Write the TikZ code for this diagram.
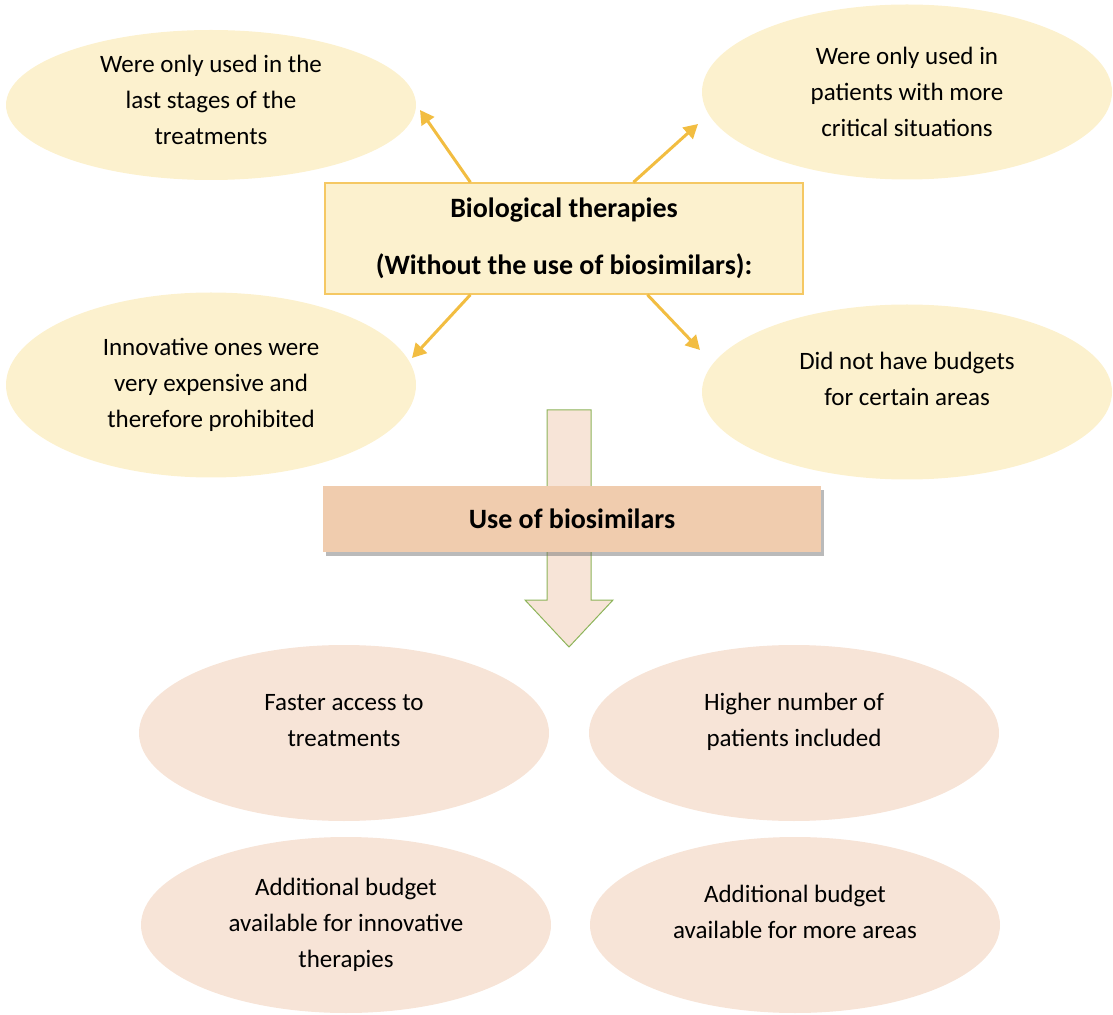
\documentclass[tikz,border=0pt]{standalone}
\usepackage{fontspec}
\setmainfont{Carlito}
\usetikzlibrary{shapes.geometric,arrows.meta,shadows}
\definecolor{goldfill}{HTML}{FCF1CE}
\definecolor{goldline}{HTML}{F5C863}
\definecolor{goldarrow}{HTML}{F2BD41}
\definecolor{peachfill}{HTML}{F7E4D7}
\definecolor{peachbox}{HTML}{F0CCAE}
\definecolor{greenline}{HTML}{8DB45A}
\newcommand{\liftup}{\\[-5pt]\mbox{}}
\begin{document}
\begin{tikzpicture}[x=0.5pt,y=-0.5pt,
  bubble/.style={ellipse,minimum width=205pt,minimum height=#1,inner sep=0pt,align=center,font=\fontsize{12.5}{18}\selectfont},
  bubble/.default=88pt,
  oldbubble/.style={bubble=#1,fill=goldfill},
  newbubble/.style={bubble=88pt,fill=peachfill},
  ray/.style={goldarrow,line width=1.5pt,-{Triangle[length=7pt,width=7.5pt]}}]
\useasboundingbox (0,0) rectangle (1113,1015);
%\draw[step=100,very thin,color=gray] (0,0) grid (1113,1015);
% before biosimilars
\node[oldbubble=75pt] (used-late) at (211,105) {Were only used in the\\last stages of the\\treatments\\[-13pt]\mbox{}};
\node[oldbubble=87.5pt] (used-critical) at (907,92) {Were only used in\\patients with more\\critical situations};
\node[oldbubble=92.5pt] (too-costly) at (211,385) {Innovative ones were\\very expensive and\\therefore prohibited};
\node[oldbubble=87.5pt] (no-budget) at (907,392) {Did not have budgets\\for certain areas\liftup};
\node[draw=goldline,line width=0.75pt,fill=goldfill,minimum width=239pt,minimum height=55.5pt,align=center,
  font=\bfseries\fontsize{14}{28.5}\selectfont] (bio) at (564,238.5) {Biological therapies\\(Without the use of biosimilars):};
\coordinate (late-tip) at (420,110);
\coordinate (critical-tip) at (698,124);
\coordinate (costly-tip) at (412,358);
\coordinate (budget-tip) at (700,350);
\draw[ray] (bio.149) -- (late-tip);
\draw[ray] (bio.39) -- (critical-tip);
\draw[ray] (bio.211) -- (costly-tip);
\draw[ray] (bio.-34) -- (budget-tip);
% big arrow down
\draw[greenline,line width=0.5pt,fill=peachfill] (547,410) -- (591,410) -- (591,600) -- (613,600) -- (569,647) -- (525,600) -- (547,600) -- cycle;
\node[fill=peachbox,minimum width=249pt,minimum height=33pt,font=\bfseries\fontsize{14}{17}\selectfont,
  drop shadow={shadow xshift=1.5pt,shadow yshift=-2pt,opacity=.45,fill=black!60}] (use-bio) at (572,519) {Use of biosimilars};
% after biosimilars
\node[newbubble] (faster) at (344,733) {Faster access to\\treatments\liftup};
\node[newbubble] (more-patients) at (794,733) {Higher number of\\patients included\liftup};
\node[newbubble] (budget-innov) at (346,925) {Additional budget\\available for innovative\\therapies};
\node[newbubble] (budget-areas) at (795,925) {Additional budget\\available for more areas\liftup};
\end{tikzpicture}
\end{document}
